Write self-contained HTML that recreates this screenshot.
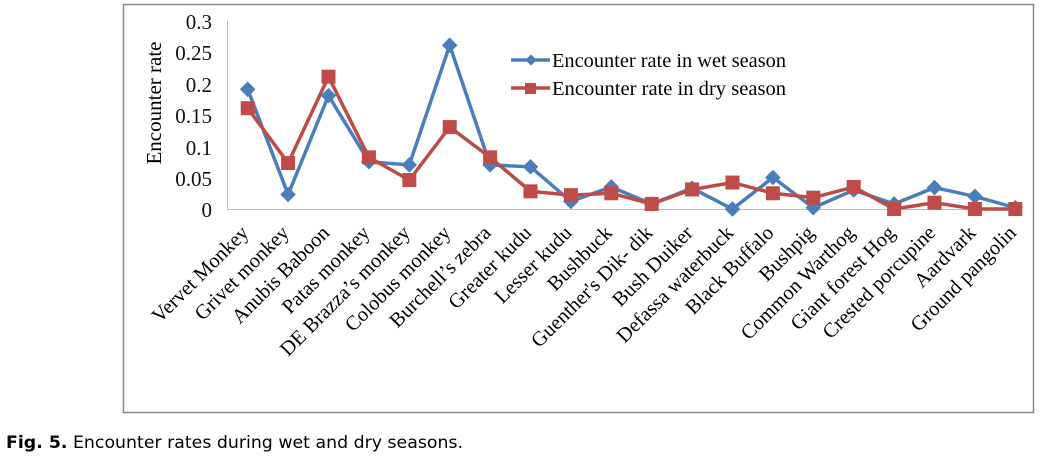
<!DOCTYPE html>
<html><head><meta charset="utf-8"><style>
body{margin:0;background:#fff;width:1051px;height:458px;overflow:hidden}
</style></head><body>
<svg width="1051" height="458" xmlns="http://www.w3.org/2000/svg">
<rect x="123.5" y="4.5" width="910" height="408" fill="none" stroke="#888" stroke-width="1.5"/>
<line x1="227.5" y1="21" x2="227.5" y2="209" stroke="#bbb"/>
<line x1="227" y1="209.5" x2="1022" y2="209.5" stroke="#bbb"/>
<g font-size="21" text-anchor="end" fill="#111" font-family="Liberation Serif, serif">
<text x="212" y="29">0.3</text><text x="212" y="60">0.25</text><text x="212" y="92">0.2</text>
<text x="212" y="123">0.15</text><text x="212" y="155">0.1</text><text x="212" y="186">0.05</text><text x="212" y="217">0</text>
</g>
<text transform="translate(161,103) rotate(-90)" font-size="21" text-anchor="middle" font-family="Liberation Serif, serif">Encounter rate</text>
<g id="labels" font-size="20.5" text-anchor="end" font-family="Liberation Serif, serif"></g>
<polyline id="wet" fill="none" stroke="#4a7ebb" stroke-width="3.5"/>
<polyline id="dry" fill="none" stroke="#be4b48" stroke-width="3.5"/>
<g id="wm" fill="#4a7ebb"></g><g id="dm" fill="#be4b48"></g>
<line x1="511" y1="60" x2="550" y2="60" stroke="#4a7ebb" stroke-width="3.5"/>
<rect x="527" y="56" width="8" height="8" transform="rotate(45 531 60)" fill="#4a7ebb"/>
<text x="552" y="67" font-size="20" textLength="234" lengthAdjust="spacingAndGlyphs" font-family="Liberation Serif, serif">Encounter rate in wet season</text>
<line x1="511" y1="88" x2="550" y2="88" stroke="#be4b48" stroke-width="3.5"/>
<rect x="525" y="83" width="11" height="11" fill="#be4b48"/>
<text x="552" y="95" font-size="20" textLength="234" lengthAdjust="spacingAndGlyphs" font-family="Liberation Serif, serif">Encounter rate in dry season</text>
<text x="6" y="448" font-size="17" font-family="DejaVu Sans, sans-serif" textLength="457" lengthAdjust="spacingAndGlyphs"><tspan font-weight="bold">Fig. 5.</tspan> Encounter rates during wet and dry seasons.</text>
</svg>
<script>
var names=["Vervet Monkey","Grivet monkey","Anubis Baboon","Patas monkey","DE Brazza’s monkey","Colobus monkey","Burchell’s zebra","Greater kudu","Lesser kudu","Bushbuck","Guenther's Dik- dik","Bush Duiker","Defassa waterbuck","Black Buffalo","Bushpig","Common Warthog","Giant forest Hog","Crested porcupine","Aardvark","Ground pangolin"];
var wet=[0.19,0.023,0.18,0.075,0.07,0.26,0.07,0.067,0.012,0.035,0.008,0.033,0,0.05,0.002,0.03,0.008,0.034,0.02,0.002];
var dry=[0.16,0.073,0.21,0.082,0.046,0.13,0.082,0.028,0.022,0.025,0.008,0.031,0.042,0.025,0.018,0.035,0,0.01,0,0];
var ns="http://www.w3.org/2000/svg";
function X(i){return 247.7+i*40.4}function Y(v){return 209-v*630}
var lg=document.getElementById("labels"),wm=document.getElementById("wm"),dm=document.getElementById("dm");
var pw=[],pd=[];
names.forEach(function(n,i){var x=X(i);
var t=document.createElementNS(ns,"text");t.setAttribute("transform","translate("+(x+2)+",234) rotate(-45)");t.textContent=n;lg.appendChild(t);
pw.push(x+","+Y(wet[i]));pd.push(x+","+Y(dry[i]));
var r=document.createElementNS(ns,"rect");r.setAttribute("x",x-5.5);r.setAttribute("y",Y(wet[i])-5.5);r.setAttribute("width",11);r.setAttribute("height",11);r.setAttribute("transform","rotate(45 "+x+" "+Y(wet[i])+")");wm.appendChild(r);
var s=document.createElementNS(ns,"rect");s.setAttribute("x",x-7);s.setAttribute("y",Y(dry[i])-7);s.setAttribute("width",14);s.setAttribute("height",14);dm.appendChild(s);});
document.getElementById("wet").setAttribute("points",pw.join(" "));
document.getElementById("dry").setAttribute("points",pd.join(" "));
</script>
</body></html>
